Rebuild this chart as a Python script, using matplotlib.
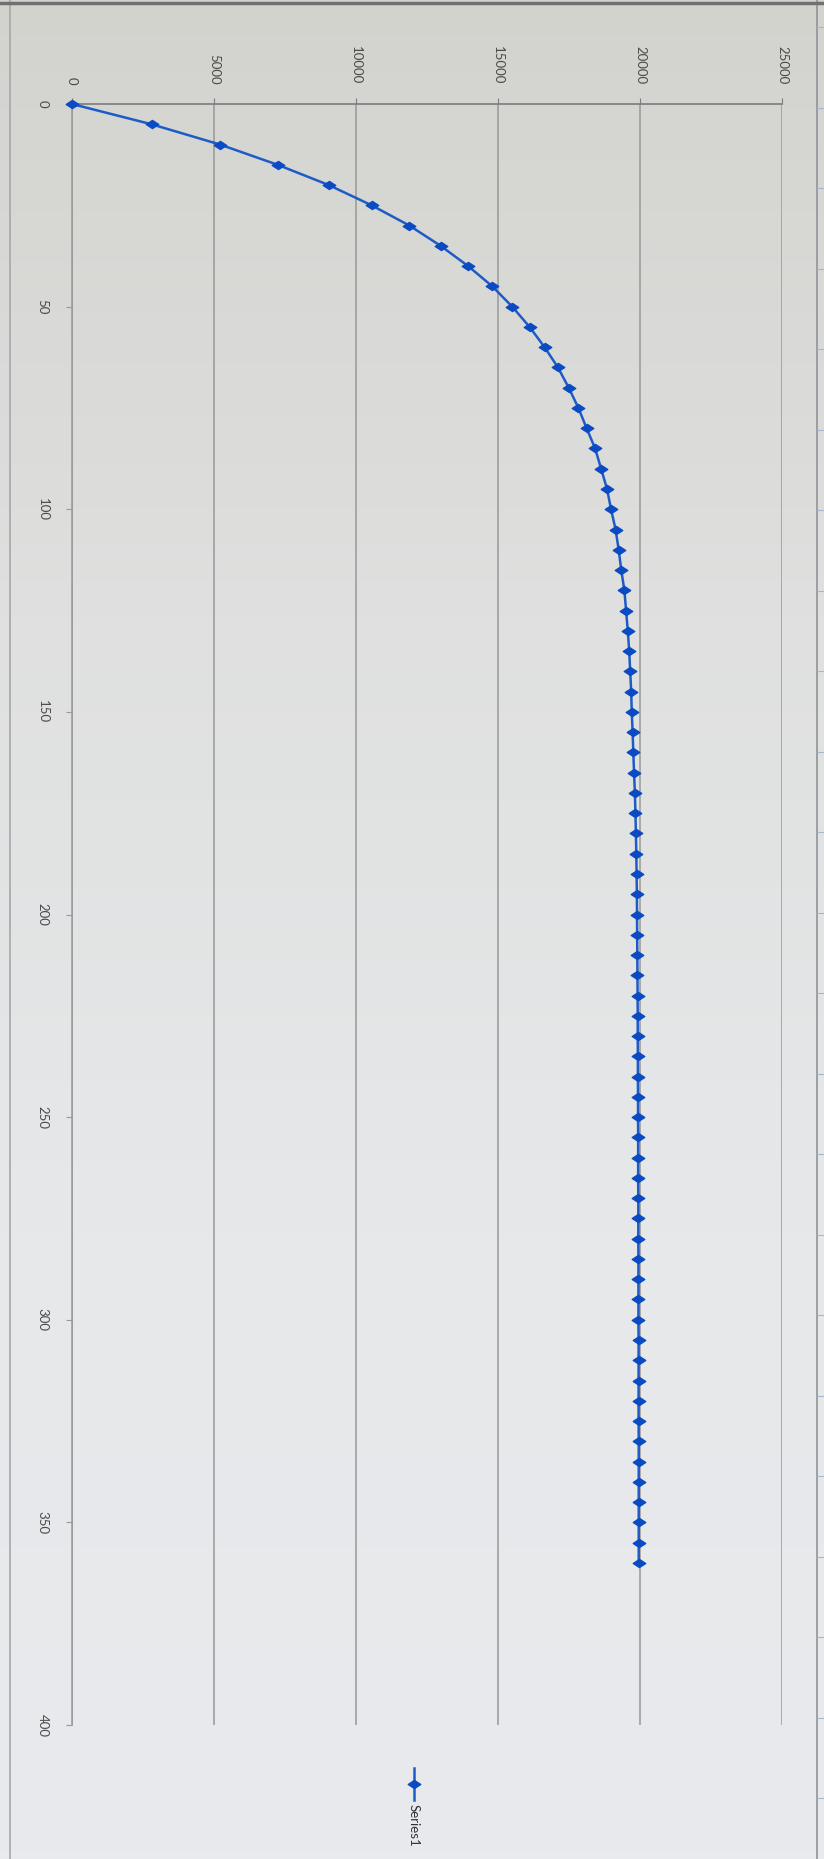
import numpy as np
import matplotlib.pyplot as plt
from matplotlib.path import Path
from matplotlib.lines import Line2D
from matplotlib.colors import LinearSegmentedColormap

plt.rcParams['font.family'] = ['Lato', 'DejaVu Sans']

# --------------------------------------------------
# data read off the (rotated) Excel chart photo
# --------------------------------------------------
x_vals = [0, 5, 10, 15, 20, 25, 30, 35, 40, 45,
          50, 55, 60, 65, 70, 75, 80, 85, 90, 95,
          100, 105, 110, 115, 120, 125, 130, 135, 140, 145,
          150, 155, 160, 165, 170, 175, 180, 185, 190, 195,
          200, 205, 210, 215, 220, 225, 230, 235, 240, 245,
          250, 255, 260, 265, 270, 275, 280, 285, 290, 295,
          300, 305, 310, 315, 320, 325, 330, 335, 340, 345,
          350, 355, 360]

y_vals = [0, 2800, 5210, 7240, 9040, 10550, 11880, 12980, 13950, 14800,
          15500, 16110, 16640, 17110, 17490, 17830, 18120, 18420, 18630, 18840,
          18980, 19140, 19250, 19340, 19450, 19510, 19570, 19620, 19655, 19690,
          19710, 19740, 19765, 19790, 19820, 19840, 19855, 19870, 19880, 19890,
          19895, 19900, 19905, 19910, 19915, 19920, 19920, 19925, 19925, 19930,
          19930, 19935, 19935, 19935, 19940, 19940, 19940, 19945, 19945, 19945,
          19945, 19950, 19950, 19950, 19950, 19950, 19955, 19955, 19955, 19955,
          19955, 19955, 19955]

value_ticks = [0, 5000, 10000, 15000, 20000, 25000]
cat_ticks = [0, 50, 100, 150, 200, 250, 300, 350, 400]
series_name = 'Series1'

W, H = 824, 1859
LINE_C = '#1d5cc6'
MARK_C = '#0a4ac2'

fig = plt.figure(figsize=(W / 100, H / 100), dpi=100)

# photo-like background (grey at the top, bluish white lower down)
bg = fig.add_axes([0, 0, 1, 1], zorder=-10)
cmap = LinearSegmentedColormap.from_list('bg', ['#d3d3ce', '#dfe0df', '#e6e8ea', '#e8eaed'])
grad = np.linspace(0, 1, 256)[:, None] * np.ones((1, 8))
bg.imshow(grad, cmap=cmap, aspect='auto', extent=[0, 1, 0, 1], origin='upper')
bg.axis('off')

# diamond marker (a bit flattened, as it looks in the photo)
diamond = Path([(-1, 0), (0, 0.65), (1, 0), (0, -0.65), (-1, 0)],
               [Path.MOVETO, Path.LINETO, Path.LINETO, Path.LINETO, Path.CLOSEPOLY])

# chart is rotated 90 deg clockwise: categories run downwards, values to the right
x0, x1 = 72, 782
y0, y1 = 104, 1725
ax = fig.add_axes([x0 / W, 1 - y1 / H, (x1 - x0) / W, (y1 - y0) / H])
ax.set_facecolor('none')

ax.plot(y_vals, x_vals, color=LINE_C, lw=1.8, marker=diamond, ms=9,
        mfc=MARK_C, mec=MARK_C, zorder=3, clip_on=False)

ax.set_xlim(0, 25000)
ax.set_ylim(400, 0)
ax.set_xticks(value_ticks)
ax.set_yticks(cat_ticks)
ax.grid(axis='x', color='#989898', lw=1.1)
ax.grid(axis='y', visible=False)
ax.xaxis.tick_top()

for s in ['right', 'bottom']:
    ax.spines[s].set_visible(False)
ax.spines['top'].set_color('#7c7c7c')
ax.spines['top'].set_linewidth(1.2)
ax.spines['left'].set_color('#999999')
ax.spines['left'].set_linewidth(1.1)

ax.tick_params(axis='x', direction='out', length=4, color='#7c7c7c', pad=10,
               labelsize=9.5, labelcolor='#4a4a4a', labelrotation=-90)
ax.tick_params(axis='y', direction='out', length=4, color='#999999', pad=13,
               labelsize=9.5, labelcolor='#4a4a4a', labelrotation=-90)
for lab in ax.get_yticklabels():
    lab.set_va('center')

# legend (Excel puts it on the right, which is the bottom here)
lx = 414 / W
fig.add_artist(Line2D([lx, lx], [1 - 1768 / H, 1 - 1800 / H], transform=fig.transFigure,
                      color=LINE_C, lw=1.8))
fig.add_artist(Line2D([lx], [1 - 1784 / H], transform=fig.transFigure, marker=diamond,
                      ms=9, mfc=MARK_C, mec=MARK_C, lw=0))
fig.text(lx, 1 - 1804 / H, series_name, rotation=-90, ha='center', va='top',
         fontsize=9.5, color='#333333')

# chart area borders seen in the photo
fig.add_artist(Line2D([10 / W, 10 / W], [0, 1], transform=fig.transFigure, color='#a3a8ad', lw=1.2))
fig.add_artist(Line2D([817 / W, 817 / W], [0, 1], transform=fig.transFigure, color='#8e949a', lw=1.2))
fig.add_artist(Line2D([0, 1], [1 - 3 / H, 1 - 3 / H], transform=fig.transFigure, color='#707070', lw=2.5))
for yy in np.arange(27, H, 80.5):
    fig.add_artist(Line2D([817 / W, 824 / W], [1 - yy / H] * 2, transform=fig.transFigure,
                          color='#a9b6c8', lw=0.8))

fig.savefig('out.png', dpi=100)
